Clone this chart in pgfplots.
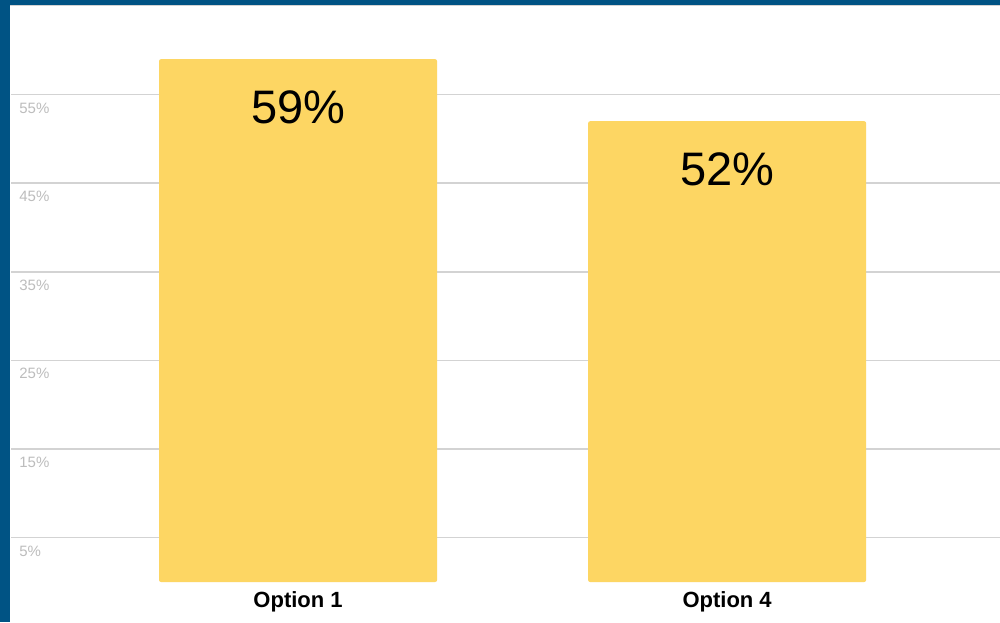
\documentclass[border=0pt]{standalone}
\usepackage{pgfplots}
\pgfplotsset{compat=1.18}
\usepackage{fontspec}
\setmainfont{Liberation Sans}
\definecolor{frameblue}{HTML}{005384}
\definecolor{baryellow}{HTML}{FDD663}
\definecolor{gridgray}{HTML}{D3D3D3}
\definecolor{ticktext}{HTML}{BDBDBD}
\begin{document}
\begin{tikzpicture}
% frame: 1px = 0.5pt, page is 1000x622 px
\useasboundingbox (0,0) rectangle (500pt,311pt);
\fill[frameblue] (0,0) rectangle (500pt,311pt);
\fill[white] (5pt,0) rectangle (500pt,308.5pt);
\draw[gridgray, line width=0.7pt] (5pt,308.2pt) -- (500pt,308.2pt);
\begin{axis}[
  at={(5.5pt,20pt)}, anchor=south west,
  scale only axis,
  width=494.5pt, height=288pt,
  xmin=-0.669, xmax=1.636,
  ymin=0, ymax=65,
  axis line style={draw=none},
  major tick length=0pt,
  xtick={0,1},
  xticklabels={Option 1,Option 4},
  xticklabel style={font=\fontsize{11}{11}\selectfont\bfseries, text=black,
    anchor=north, inner sep=0pt, yshift=-4.5pt},
  ytick={5,15,...,55},
  yticklabel={\pgfmathprintnumber{\tick}\%},
  yticklabel style={font=\fontsize{7.5}{7.5}\selectfont, text=ticktext,
    anchor=north west, inner sep=0pt, xshift=4pt, yshift=-3.8pt},
  ymajorgrids,
  major grid style={gridgray, line width=0.75pt},
  /pgf/number format/assume math mode=true,
  clip=false,
]
\addplot[ybar, bar width=0.648, fill=baryellow, draw=none, rounded corners=1pt,
  nodes near coords={\pgfmathprintnumber{\pgfplotspointmeta}\%},
  every node near coord/.append style={font=\fontsize{23.5}{23.5}\selectfont,
    text=black, anchor=north, inner sep=0pt, yshift=-15.5pt},
  /pgf/number format/assume math mode=true,
] coordinates {(0,59) (1,52)};
\end{axis}
\end{tikzpicture}
\end{document}
